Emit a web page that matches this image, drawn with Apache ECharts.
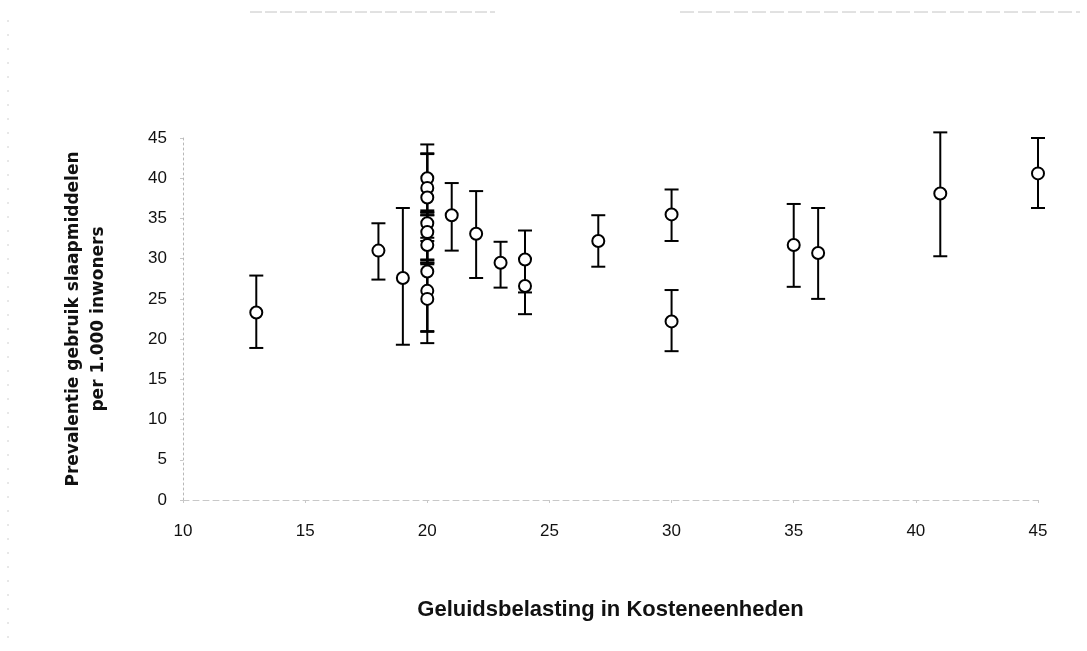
<!DOCTYPE html>
<html>
<head>
<meta charset="utf-8">
<script src="https://cdn.jsdelivr.net/npm/echarts@6/dist/echarts.min.js"></script>
<style>
html,body{margin:0;padding:0;background:#fff;}
#chart{width:1087px;height:651px;}
</style>
</head>
<body>
<div id="chart"></div>
<script>
// Geluidsbelasting (Kosteneenheden)
var xValues = [13, 18, 19, 20, 20, 20, 20, 20, 20, 20, 20, 20, 21, 22, 23, 24, 24, 27, 30, 30, 35, 36, 41, 45];
// Prevalentie per 1.000 inwoners
var yValues = [23.3, 31.0, 27.6, 40.0, 38.8, 37.6, 34.4, 33.3, 31.7, 28.4, 26.0, 25.0, 35.4, 33.1, 29.5, 29.9, 26.6, 32.2, 35.5, 22.2, 31.7, 30.7, 38.1, 40.6];
var lowValues = [18.9, 27.4, 19.3, 35.8, 35.4, 32.2, 29.8, 29.5, 29.3, 21.0, 20.9, 19.5, 31.0, 27.6, 26.4, 25.8, 23.1, 29.0, 32.2, 18.5, 26.5, 25.0, 30.3, 36.3];
var highValues = [27.9, 34.4, 36.3, 44.2, 43.1, 43.0, 36.0, 35.7, 32.6, 35.4, 29.9, 29.5, 39.4, 38.4, 32.1, 33.5, 30.0, 35.4, 38.6, 26.1, 36.8, 36.3, 45.7, 45.0];
var xTicks = [10, 15, 20, 25, 30, 35, 40, 45];
var yTicks = [0, 5, 10, 15, 20, 25, 30, 35, 40, 45];

var points = xValues.map(function (x, i) { return [x, yValues[i]]; });
var bars = xValues.map(function (x, i) { return [x, lowValues[i], highValues[i]]; });

var chart = echarts.init(document.getElementById('chart'), null, {renderer: 'canvas'});
var fontFam = '"Liberation Sans", Arial, Helvetica, sans-serif';

chart.setOption({
  animation: false,
  backgroundColor: '#ffffff',
  grid: {left: 183, right: 49, top: 138, bottom: 151, containLabel: false},
  xAxis: {
    type: 'value',
    min: xTicks[0], max: xTicks[xTicks.length - 1], interval: 5,
    axisLine: {show: true, lineStyle: {color: '#c8c8c8', width: 1, type: [6, 4]}},
    axisTick: {show: true, length: 3, lineStyle: {color: '#c8c8c8'}},
    splitLine: {show: false},
    axisLabel: {color: '#111', fontFamily: fontFam, fontSize: 17, margin: 23},
    name: 'Geluidsbelasting in Kosteneenheden',
    nameLocation: 'middle',
    nameGap: 99,
    nameTextStyle: {color: '#111', fontFamily: fontFam, fontSize: 22, fontWeight: 'bold'}
  },
  yAxis: {
    type: 'value',
    min: yTicks[0], max: yTicks[yTicks.length - 1], interval: 5,
    axisLine: {show: true, lineStyle: {color: '#b8b8b8', width: 1, type: [2, 3]}},
    axisTick: {show: true, length: 3, inside: false, lineStyle: {color: '#c8c8c8'}},
    splitLine: {show: false},
    axisLabel: {color: '#111', fontFamily: fontFam, fontSize: 17, margin: 16},
    name: 'Prevalentie gebruik slaapmiddelen\nper 1.000 inwoners',
    nameLocation: 'middle',
    nameGap: 72,
    nameRotate: 90,
    nameTextStyle: {color: '#111', fontFamily: '"DejaVu Sans", sans-serif', fontSize: 17, fontWeight: 'bold', lineHeight: 25, align: 'center'}
  },
  graphic: [
    {type: 'line', shape: {x1: 250, y1: 12, x2: 495, y2: 12}, style: {stroke: '#c4c4c4', lineWidth: 1, lineDash: [12, 3]}, silent: true},
    {type: 'line', shape: {x1: 680, y1: 12, x2: 1080, y2: 12}, style: {stroke: '#c4c4c4', lineWidth: 1, lineDash: [14, 4]}, silent: true},
    {type: 'line', shape: {x1: 8, y1: 20, x2: 8, y2: 640}, style: {stroke: '#d0d0d0', lineWidth: 1, lineDash: [2, 12]}, silent: true}
  ],
  series: [
    {
      type: 'custom',
      name: 'err',
      data: bars,
      encode: {x: 0, y: [1, 2]},
      z: 2,
      renderItem: function (params, api) {
        var x = api.value(0);
        var lo = api.coord([x, api.value(1)]);
        var hi = api.coord([x, api.value(2)]);
        var w = 7;
        var st = {stroke: '#000', lineWidth: 2, fill: null};
        return {
          type: 'group',
          children: [
            {type: 'line', shape: {x1: lo[0], y1: lo[1], x2: hi[0], y2: hi[1]}, style: st},
            {type: 'line', shape: {x1: lo[0] - w, y1: lo[1], x2: lo[0] + w, y2: lo[1]}, style: st},
            {type: 'line', shape: {x1: hi[0] - w, y1: hi[1], x2: hi[0] + w, y2: hi[1]}, style: st}
          ]
        };
      }
    },
    {
      type: 'scatter',
      name: 'prev',
      data: points,
      symbol: 'circle',
      symbolSize: 12,
      z: 3,
      itemStyle: {color: '#ffffff', borderColor: '#000', borderWidth: 2, opacity: 1}
    }
  ]
});
</script>
</body>
</html>
